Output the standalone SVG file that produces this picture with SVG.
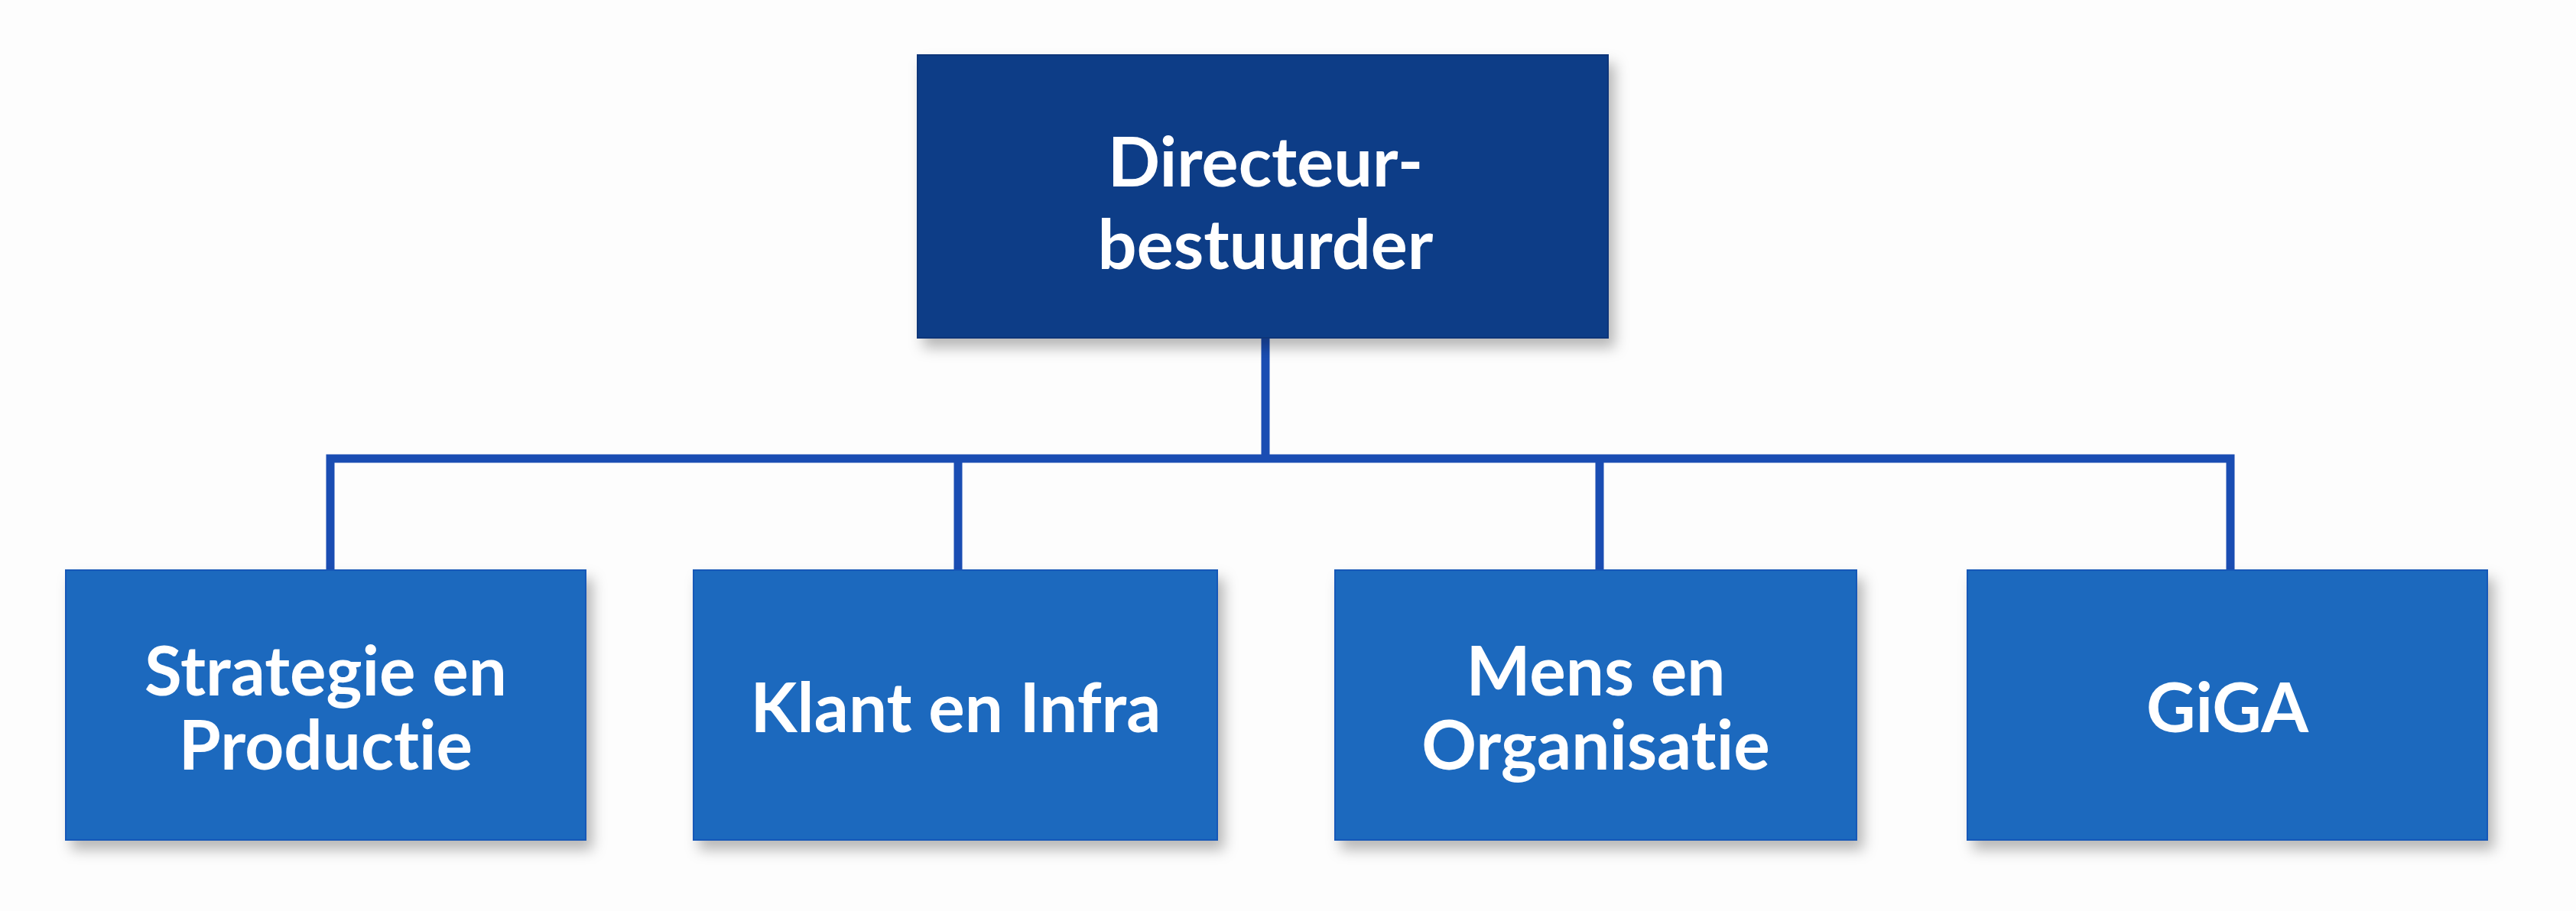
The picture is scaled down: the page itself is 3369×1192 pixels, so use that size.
<svg xmlns="http://www.w3.org/2000/svg" width="3369" height="1192" viewBox="0 0 3369 1192">
  <defs>
    <filter id="shadow" x="-10%" y="-10%" width="130%" height="140%">
      <feDropShadow dx="8" dy="12" stdDeviation="9" flood-color="#000000" flood-opacity="0.28"/>
    </filter>
    <style>
      .top { fill: #0A3D87; stroke: #083479; stroke-width: 2; filter: url(#shadow); }
      .sub { fill: #1F69BE; stroke: #1659B8; stroke-width: 2; filter: url(#shadow); }
      .lbl { font-family: Lato, "Open Sans", "Liberation Sans", sans-serif; font-weight: 700; fill: #FFFFFF; text-anchor: middle; font-variant-ligatures: none; font-feature-settings: "liga" 0, "clig" 0; }
      .toplbl { font-size: 90px; }
      .sublbl { font-size: 89px; }
      .conn { fill: none; stroke: #1A4DB3; stroke-width: 11; stroke-linejoin: miter; stroke-linecap: butt; }
    </style>
  </defs>
  <rect x="0" y="0" width="3369" height="1192" fill="#FDFDFD"/>

  <g id="connectors">
    <path class="conn" d="M1655,442 V600"/>
    <path class="conn" d="M432,746 V600 H2917 V746"/>
    <path class="conn" d="M1253,600 V746"/>
    <path class="conn" d="M2092,600 V746"/>
  </g>

  <g id="node-directeur">
    <rect class="top" x="1200" y="72" width="903" height="370"/>
    <text class="lbl toplbl" x="1655" y="244">Directeur-</text>
    <text class="lbl toplbl" x="1655" y="352">bestuurder</text>
  </g>

  <g id="node-strategie">
    <rect class="sub" x="86" y="746" width="680" height="353"/>
    <text class="lbl sublbl" x="426" y="910">Strategie en</text>
    <text class="lbl sublbl" x="426" y="1007">Productie</text>
  </g>

  <g id="node-klant">
    <rect class="sub" x="907" y="746" width="685" height="353"/>
    <text class="lbl sublbl" x="1250" y="958">Klant en Infra</text>
  </g>

  <g id="node-mens">
    <rect class="sub" x="1746" y="746" width="682" height="353"/>
    <text class="lbl sublbl" x="2087" y="910">Mens en</text>
    <text class="lbl sublbl" x="2087" y="1007">Organisatie</text>
  </g>

  <g id="node-giga">
    <rect class="sub" x="2573" y="746" width="680" height="353"/>
    <text class="lbl sublbl" x="2913" y="958">GiGA</text>
  </g>
</svg>
